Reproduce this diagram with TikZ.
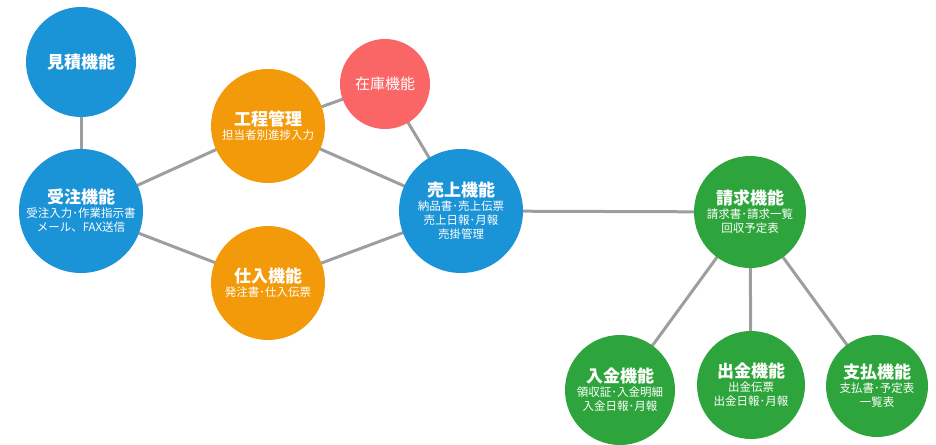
\documentclass[tikz,border=0pt]{standalone}
\usepackage{fontspec}
\newfontfamily\jp{Noto Sans CJK JP}
\usetikzlibrary{backgrounds}
\definecolor{cblue}{HTML}{1B93D7}
\definecolor{corange}{HTML}{F39A0B}
\definecolor{cred}{HTML}{FA6565}
\definecolor{cgreen}{HTML}{2EA53C}
\definecolor{cline}{HTML}{9E9E9E}
\newcommand{\fname}[1]{{\fontsize{17}{19}\selectfont\bfseries #1}}
\tikzset{
  func/.style={circle, fill=#1, text=white, align=center, inner sep=0pt,
    font=\jp\fontsize{11.5}{14}\selectfont},
  link/.style={draw=cline, line width=3pt},
}
\begin{document}
\begin{tikzpicture}[x=1pt, y=-1pt]
  \useasboundingbox (0,0) rectangle (936,444);
  % left group
  \node[func=cblue, minimum size=110pt] (mitsumori) at (81,62) {\fname{見積機能}};
  \node[func=cblue, minimum size=124pt] (juchu) at (81,211) {\fname{受注機能}\\受注入力･作業指示書\\メール、FAX送信};
  \node[func=corange, minimum size=114pt] (koutei) at (268,126) {\fname{工程管理}\\担当者別進捗入力};
  \node[func=corange, minimum size=114pt] (shiire) at (268,283) {\fname{仕入機能}\\発注書･仕入伝票};
  \node[func=cred, minimum size=90pt, font=\jp\fontsize{15}{18}\selectfont] (zaiko) at (385,84) {在庫機能};
  \node[func=cblue, minimum size=124pt] (uriage) at (461,211) {\fname{売上機能}\\納品書･売上伝票\\売上日報･月報\\売掛管理};
  % right group
  \node[func=cgreen, minimum size=112pt] (seikyu) at (750,212) {\fname{請求機能}\\請求書･請求一覧\\回収予定表};
  \node[func=cgreen, minimum size=110pt] (nyukin) at (620,390) {\fname{入金機能}\\領収証･入金明細\\入金日報･月報};
  \node[func=cgreen, minimum size=108pt] (shukkin) at (751,385) {\fname{出金機能}\\出金伝票\\出金日報･月報};
  \node[func=cgreen, minimum size=102pt] (shiharai) at (877,386) {\fname{支払機能}\\支払書･予定表\\一覧表};
  \begin{scope}[on background layer]
    \foreach \a/\b in {mitsumori/juchu, juchu/koutei, juchu/shiire, koutei/uriage,
      shiire/uriage, koutei/zaiko, zaiko/uriage, uriage/seikyu,
      seikyu/nyukin, seikyu/shukkin, seikyu/shiharai}
      \draw[link] (\a.center) -- (\b.center);
  \end{scope}
\end{tikzpicture}
\end{document}
